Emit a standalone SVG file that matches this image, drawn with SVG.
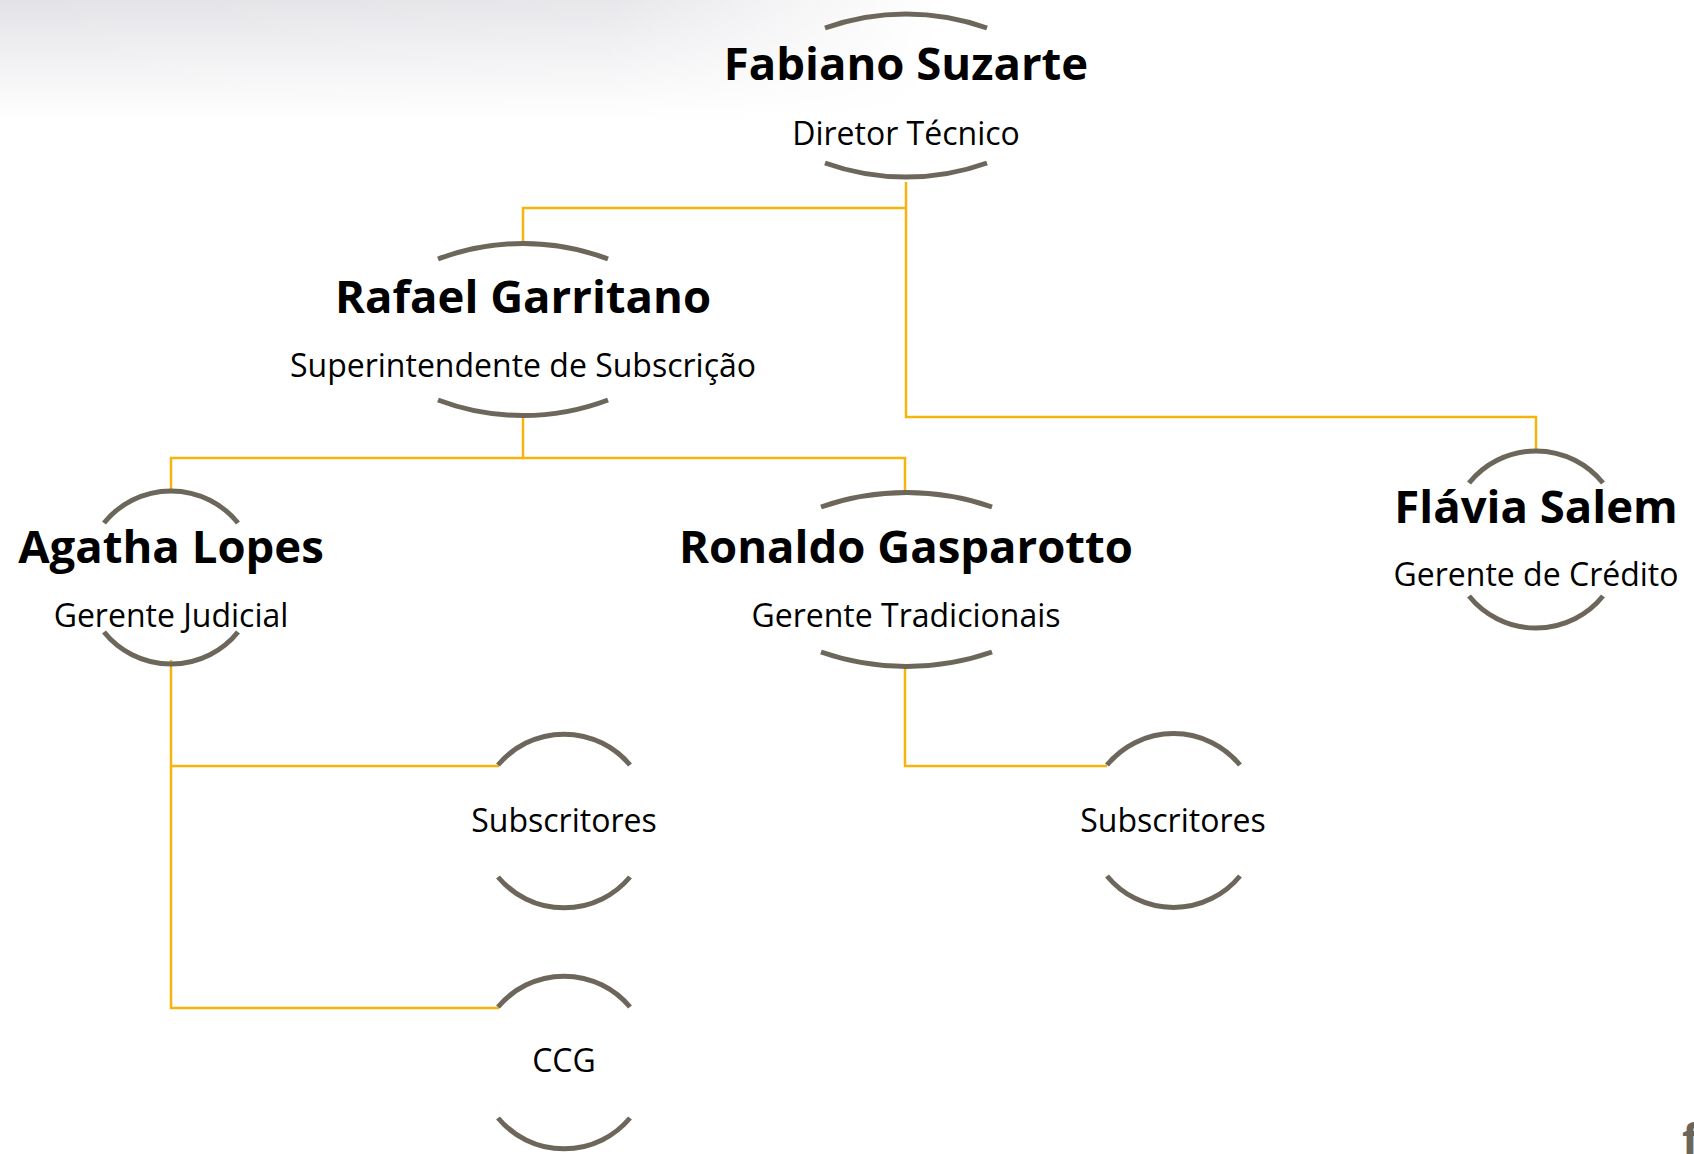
<svg xmlns="http://www.w3.org/2000/svg" width="1694" height="1154" viewBox="0 0 1694 1154">
  <defs>
    <linearGradient id="bgv" x1="0" y1="0" x2="0" y2="1">
      <stop offset="0" stop-color="#e3e3e7"/>
      <stop offset="0.35" stop-color="#ededf0"/>
      <stop offset="1" stop-color="#ffffff"/>
    </linearGradient>
    <linearGradient id="bgh" x1="0" y1="0" x2="1" y2="0">
      <stop offset="0" stop-color="#fff" stop-opacity="1"/>
      <stop offset="0.65" stop-color="#fff" stop-opacity="0.85"/>
      <stop offset="1" stop-color="#fff" stop-opacity="0"/>
    </linearGradient>
    <mask id="fade">
      <rect x="0" y="0" width="940" height="120" fill="url(#bgh)"/>
    </mask>
  </defs>
  <style>
    .arc { fill: none; stroke: #6d675b; stroke-width: 5; }
    .conn { fill: none; stroke: #f5b50c; stroke-width: 2.5; }
    .name { font-family: "Open Sans", "Liberation Sans", sans-serif; font-weight: 700; font-size: 45.5px; fill: #000; text-anchor: middle; }
    .role { font-family: "Open Sans", "Liberation Sans", sans-serif; font-weight: 400; font-size: 32px; fill: #000; text-anchor: middle; }
  </style>
  <rect width="1694" height="1154" fill="#ffffff"/>
  <rect x="0" y="0" width="940" height="120" fill="url(#bgv)" mask="url(#fade)"/>

  <g id="connectors">
    <path class="conn" d="M906,182 V417 H1536 V452"/>
    <path class="conn" d="M906,208 H523 V243"/>
    <path class="conn" d="M523,415 V458 H171 V492"/>
    <path class="conn" d="M523,458 H905 V493"/>
    <path class="conn" d="M171,660 V1008 H499"/>
    <path class="conn" d="M171,766 H499"/>
    <path class="conn" d="M905,665 V766 H1107"/>
  </g>

  <g id="node-fabiano">
    <path class="arc" d="M825,28 A240 240 0 0 1 987,28"/>
    <path class="arc" d="M825,163 A240 240 0 0 0 987,163"/>
    <text class="name" x="906" y="80">Fabiano Suzarte</text>
    <text class="role" x="906" y="145">Diretor Técnico</text>
  </g>

  <g id="node-rafael">
    <path class="arc" d="M438,259 A240 240 0 0 1 608,259"/>
    <path class="arc" d="M438,400 A240 240 0 0 0 608,400"/>
    <text class="name" x="523" y="313">Rafael Garritano</text>
    <text class="role" x="523" y="377">Superintendente de Subscrição</text>
  </g>

  <g id="node-agatha">
    <path class="arc" d="M104,523 A86 86 0 0 1 238,523"/>
    <path class="arc" d="M104,632 A86 86 0 0 0 238,632"/>
    <text class="name" x="171" y="563">Agatha Lopes</text>
    <text class="role" x="171" y="627">Gerente Judicial</text>
  </g>

  <g id="node-ronaldo">
    <path class="arc" d="M821,507 A260 260 0 0 1 992,507"/>
    <path class="arc" d="M821,652 A260 260 0 0 0 992,652"/>
    <text class="name" x="906" y="563">Ronaldo Gasparotto</text>
    <text class="role" x="906" y="627">Gerente Tradicionais</text>
  </g>

  <g id="node-flavia">
    <path class="arc" d="M1469,483 A86 86 0 0 1 1603,483"/>
    <path class="arc" d="M1469,596 A86 86 0 0 0 1603,596"/>
    <text class="name" x="1536" y="523">Flávia Salem</text>
    <text class="role" x="1536" y="586">Gerente de Crédito</text>
  </g>

  <g id="node-subscritores-1">
    <path class="arc" d="M498,765 A86 86 0 0 1 630,765"/>
    <path class="arc" d="M498,877 A86 86 0 0 0 630,877"/>
    <text class="role" x="564" y="832">Subscritores</text>
  </g>

  <g id="node-ccg">
    <path class="arc" d="M498,1007 A86 86 0 0 1 630,1007"/>
    <path class="arc" d="M498,1118 A86 86 0 0 0 630,1118"/>
    <text class="role" x="564" y="1072">CCG</text>
  </g>

  <g id="node-subscritores-2">
    <path class="arc" d="M1107,765 A86 86 0 0 1 1240,765"/>
    <path class="arc" d="M1107,876 A86 86 0 0 0 1240,876"/>
    <text class="role" x="1173" y="832">Subscritores</text>
  </g>

  <text x="1682" y="1156" font-family="'Open Sans', 'Liberation Sans', sans-serif" font-weight="700" font-size="45" fill="#6b655a">f</text>
</svg>
